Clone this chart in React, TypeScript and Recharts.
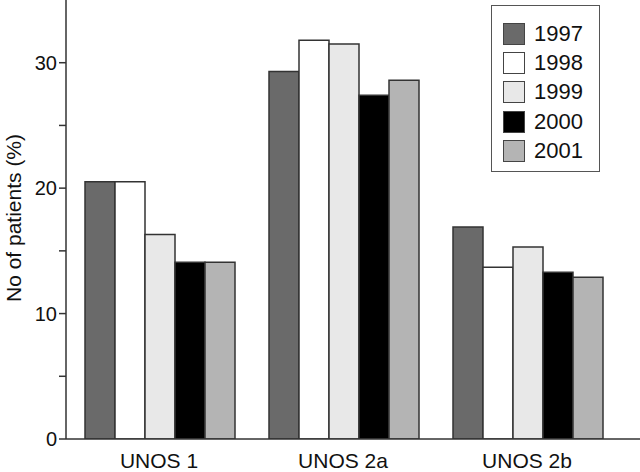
import React from "react";
import { BarChart, Bar, XAxis, YAxis, Legend } from "recharts";

const categories = ["UNOS 1", "UNOS 2a", "UNOS 2b"];
const years = ["1997", "1998", "1999", "2000", "2001"];
const values1997 = [20.5, 29.3, 16.9];
const values1998 = [20.5, 31.8, 13.7];
const values1999 = [16.3, 31.5, 15.3];
const values2000 = [14.1, 27.4, 13.3];
const values2001 = [14.1, 28.6, 12.9];
const yTicks = [0, 5, 10, 15, 20, 25, 30];
const colors = ["#6a6a6a", "#ffffff", "#e8e8e8", "#000000", "#b4b4b4"];

const series = [values1997, values1998, values1999, values2000, values2001];
const data = categories.map((c, i) => {
  const row: Record<string, string | number> = { name: c };
  years.forEach((y, k) => {
    row[y] = series[k][i];
  });
  return row;
});

const FONT = "'Liberation Sans', Arial, sans-serif";

const LegendBox = (props: any) => {
  const payload = props.payload || [];
  return (
    <div
      style={{
        boxSizing: "border-box",
        width: 109,
        height: 167,
        border: "1.5px solid #555",
        background: "#fff",
        paddingTop: 13,
        paddingLeft: 11,
        fontFamily: FONT,
      }}
    >
      {payload.map((p: any) => (
        <div key={p.value} style={{ display: "flex", alignItems: "center", height: 29.3 }}>
          <div
            style={{
              boxSizing: "border-box",
              width: 22,
              height: 22,
              background: p.color,
              border: "1.5px solid #444",
            }}
          />
          <span style={{ marginLeft: 9, fontSize: 22, color: "#111", lineHeight: "22px" }}>{p.value}</span>
        </div>
      ))}
    </div>
  );
};

const YLabel = () => (
  <text
    x={13}
    y={218}
    transform="rotate(-90,13,218)"
    textAnchor="middle"
    dominantBaseline="central"
    fontSize={21}
    fontFamily={FONT}
    fill="#111"
  >
    No of patients (%)
  </text>
);

export default function App() {
  return (
    <div style={{ position: "absolute", left: 0, top: 0, background: "#fff" }}>
      <BarChart
        width={640}
        height={472}
        data={data}
        margin={{ top: 0, right: 0, bottom: 0, left: 0 }}
        barCategoryGap={18}
        barGap={0}
      >
        <XAxis
          dataKey="name"
          height={33}
          padding={{ left: 1, right: 21 }}
          tickLine={false}
          tickSize={8}
          tickMargin={6}
          axisLine={{ stroke: "#333", strokeWidth: 1.5 }}
          tick={{ fontSize: 21, fontFamily: FONT, fill: "#111" }}
        />
        <YAxis
          width={66}
          domain={[0, 35]}
          ticks={yTicks}
          allowDataOverflow
          tickSize={7}
          tickMargin={2}
          tickFormatter={(v: number) => (v % 10 === 0 ? String(v) : "")}
          axisLine={{ stroke: "#333", strokeWidth: 1.5 }}
          tickLine={{ stroke: "#333", strokeWidth: 1.5 }}
          tick={{ fontSize: 20, fontFamily: FONT, fill: "#111" }}
          label={{ content: YLabel }}
        />
        <Legend
          layout="vertical"
          align="center"
          verticalAlign="middle"
          content={LegendBox}
          wrapperStyle={{ position: "absolute", left: 491, top: 5, width: 109, height: 167 }}
        />
        {years.map((y, k) => (
          <Bar
            key={y}
            dataKey={y}
            fill={colors[k]}
            stroke="#333"
            strokeWidth={1.5}
            isAnimationActive={false}
          />
        ))}
      </BarChart>
    </div>
  );
}
